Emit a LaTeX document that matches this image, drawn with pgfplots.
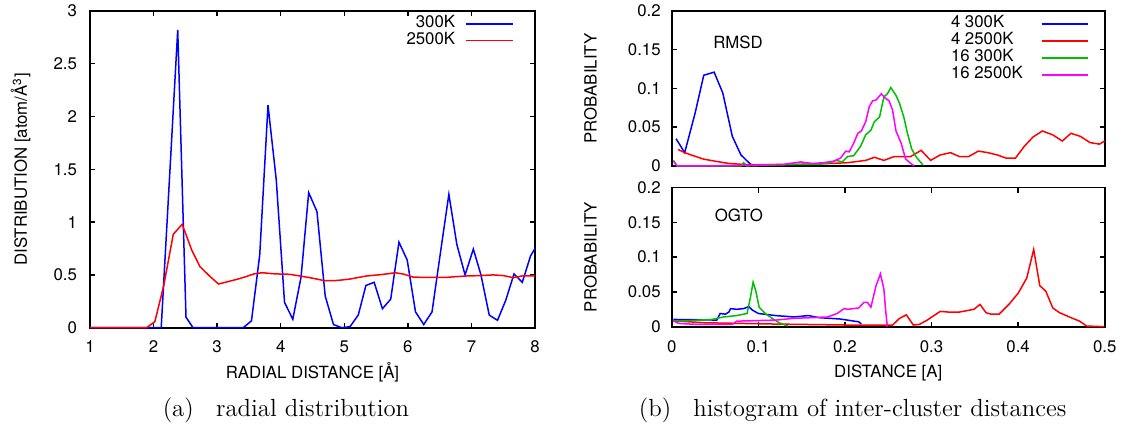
\documentclass[border=0pt]{standalone}
\usepackage{fontspec}
\usepackage{pgfplots}
\pgfplotsset{compat=1.18}
\newfontfamily\hv{TeX Gyre Heros}
\definecolor{gpblue}{rgb}{0,0,1}
\definecolor{gpred}{rgb}{1,0,0}
\definecolor{gpgreen}{rgb}{0,0.75,0}
\definecolor{gpmag}{rgb}{1,0,1}
\newcommand{\gpf}{\hv\fontsize{8.4}{10}\selectfont}
\pgfplotsset{gp/.style={
  scale only axis, clip=false,
  axis line style={line width=0.8pt},
  major tick length=2.5pt,
  every tick/.style={black, line width=0.7pt},
  tick align=inside,
  ticklabel style={font=\gpf},
  /pgf/number format/assume math mode=true,
  scaled ticks=false,
  yticklabel style={/pgf/number format/fixed, /pgf/number format/precision=2},
  legend plot pos=right,
  legend image code/.code={\draw[##1,line width=0.75pt] (0pt,0pt) -- (23.25pt,0pt);},
  every axis plot/.append style={line width=0.75pt},
}}
\begin{document}
\begin{tikzpicture}
\useasboundingbox (0,0) rectangle (563.5pt,-214.5pt);
% ---------------- left panel
\begin{axis}[gp,
  at={(45pt,-163.85pt)}, anchor=south west,
  width=222.5pt, height=158.35pt,
  xmin=1, xmax=8, ymin=0, ymax=3,
  xtick={1,2,...,8}, ytick={0,0.5,...,3},
  xticklabel style={yshift=-2.8pt},
  yticklabel style={xshift=-3pt},
  xlabel={RADIAL DISTANCE [Å]},
  ylabel={DISTRIBUTION [atom/Å\textsuperscript{3}]},
  every axis x label/.style={at={(axis description cs:0.5,-0.1415)}, anchor=center, font=\gpf},
  every axis y label/.style={at={(axis description cs:-0.156,0.5)}, rotate=90, anchor=center, font=\gpf},
  legend style={draw=none, fill=none, inner sep=0pt, outer sep=0pt,
    at={(0.9517,0.9853)}, anchor=north east, column sep=5.2pt, row sep=0pt,
    font=\gpf, nodes={inner sep=0pt, text height=6pt, text depth=2.35pt, font=\gpf}},
  legend cell align=right,
]
\addplot[gpblue] coordinates {(1,0) (2.12,0) (2.38,2.82) (2.51,0.1) (2.62,0) (3.41,0) (3.54,0.065) (3.67,0.69) (3.80,2.107) (3.93,1.4) (4.06,0.24) (4.19,0.08) (4.32,0.48) (4.44,1.28) (4.57,1.1) (4.70,0.3) (4.83,0.03) (4.96,0) (5.09,0.01) (5.22,0.12) (5.34,0.4) (5.47,0.43) (5.60,0.18) (5.73,0.27) (5.86,0.81) (5.99,0.64) (6.12,0.15) (6.25,0.03) (6.38,0.15) (6.51,0.7) (6.645,1.264) (6.77,0.79) (6.90,0.5) (7.03,0.745) (7.15,0.5) (7.28,0.12) (7.41,0.07) (7.54,0.26) (7.67,0.51) (7.80,0.43) (7.93,0.68) (8.0,0.75)};
\addlegendentry{300K}
\addplot[gpred] coordinates {(1,0) (1.89,0) (2.02,0.057) (2.16,0.40) (2.31,0.885) (2.45,0.98) (2.60,0.736) (2.73,0.578) (2.88,0.49) (3.02,0.414) (3.16,0.435) (3.31,0.458) (3.45,0.483) (3.58,0.51) (3.71,0.521) (3.86,0.512) (4.0,0.508) (4.14,0.506) (4.3,0.49) (4.45,0.475) (4.59,0.458) (4.69,0.445) (4.83,0.445) (4.96,0.452) (5.09,0.461) (5.22,0.476) (5.35,0.49) (5.56,0.502) (5.70,0.512) (5.80,0.521) (5.93,0.508) (6.08,0.48) (6.25,0.476) (6.40,0.477) (6.6,0.477) (6.92,0.49) (7.1,0.493) (7.34,0.5) (7.50,0.494) (7.66,0.474) (7.79,0.49) (8,0.49)};
\addlegendentry{2500K}
\end{axis}
% ---------------- right top panel
\begin{axis}[gp,
  at={(335.85pt,-82.9pt)}, anchor=south west,
  width=216.5pt, height=77.4pt,
  xmin=0, xmax=0.5, ymin=0, ymax=0.2,
  xtick=\empty, ytick={0,0.05,...,0.2},
  yticklabel style={xshift=-2pt},
  ylabel={PROBABILITY},
  every axis y label/.style={at={(axis description cs:-0.1873,0.5)}, rotate=90, anchor=center, font=\gpf},
  legend style={draw=none, fill=none, inner sep=0pt, outer sep=0pt,
    at={(0.645,0.971)}, anchor=north west, column sep=9pt, row sep=0pt,
    font=\gpf, nodes={inner sep=0pt, text height=6.1pt, text depth=2.4pt, font=\gpf}},
  legend cell align=left,
]
\addplot[gpblue] coordinates {(0.005,0.035) (0.015,0.017) (0.027,0.068) (0.037,0.117) (0.049,0.121) (0.059,0.094) (0.070,0.038) (0.080,0.014) (0.091,0.002) (0.1,0)};
\addlegendentry{4 300K}
\addplot[gpred] coordinates {(0.0075,0.021) (0.015,0.017) (0.025,0.013) (0.037,0.0086) (0.05,0.006) (0.066,0.003) (0.08,0.002) (0.091,0.0013) (0.12,0.0015) (0.15,0.002) (0.183,0.003) (0.203,0.004) (0.224,0.007) (0.234,0.011) (0.245,0.007) (0.257,0.012) (0.276,0.012) (0.288,0.02) (0.299,0.007) (0.31,0.014) (0.322,0.017) (0.332,0.012) (0.343,0.012) (0.354,0.019) (0.365,0.017) (0.376,0.014) (0.386,0.01) (0.397,0.01) (0.407,0.025) (0.417,0.037) (0.428,0.045) (0.44,0.04) (0.451,0.032) (0.461,0.042) (0.472,0.038) (0.483,0.03) (0.494,0.028) (0.5,0.032)};
\addlegendentry{4 2500K}
\addplot[gpgreen] coordinates {(0.002,0.007) (0.006,0) (0.08,0) (0.083,0.004) (0.087,0) (0.15,0.002) (0.17,0.002) (0.183,0.004) (0.19,0.007) (0.197,0.005) (0.203,0.012) (0.21,0.013) (0.218,0.025) (0.224,0.04) (0.23,0.046) (0.234,0.057) (0.24,0.063) (0.245,0.089) (0.249,0.093) (0.253,0.101) (0.259,0.091) (0.263,0.081) (0.268,0.063) (0.272,0.043) (0.277,0.022) (0.282,0.012) (0.29,0.001)};
\addlegendentry{16 300K}
\addplot[gpmag] coordinates {(0.002,0.006) (0.006,0) (0.05,0) (0.1,0.001) (0.13,0.002) (0.149,0.005) (0.162,0.003) (0.175,0.004) (0.187,0.006) (0.195,0.010) (0.201,0.019) (0.205,0.018) (0.21,0.029) (0.215,0.042) (0.219,0.045) (0.224,0.057) (0.228,0.076) (0.232,0.084) (0.236,0.085) (0.242,0.093) (0.247,0.087) (0.251,0.084) (0.255,0.072) (0.259,0.045) (0.265,0.029) (0.27,0.009) (0.276,0.003) (0.28,0)};
\addlegendentry{16 2500K}
\node[font=\gpf, anchor=center] at (axis cs:0.0766,0.160) {RMSD};
\end{axis}
% ---------------- right bottom panel
\begin{axis}[gp,
  at={(335.85pt,-163.35pt)}, anchor=south west,
  width=216.5pt, height=69.6pt,
  xmin=0, xmax=0.5, ymin=0, ymax=0.2,
  xtick={0,0.1,...,0.5}, ytick={0,0.05,...,0.2},
  xticklabel style={yshift=-3.4pt, /pgf/number format/fixed},
  yticklabel style={xshift=-2pt},
  xlabel={DISTANCE [A]},
  ylabel={PROBABILITY},
  every axis x label/.style={at={(axis description cs:0.5,-0.329)}, anchor=center, font=\gpf},
  every axis y label/.style={at={(axis description cs:-0.1873,0.5)}, rotate=90, anchor=center, font=\gpf},
]
\addplot[gpblue] coordinates {(0.002,0.0104) (0.02,0.0102) (0.04,0.0098) (0.052,0.0095) (0.056,0.019) (0.062,0.018) (0.066,0.021) (0.068,0.026) (0.075,0.025) (0.083,0.026) (0.089,0.029) (0.093,0.024) (0.1,0.019) (0.12,0.016) (0.141,0.014) (0.158,0.016) (0.17,0.013) (0.183,0.012) (0.195,0.011) (0.216,0.007) (0.219,0.004)};
\addplot[gpred] coordinates {(0.002,0.0085) (0.037,0.0057) (0.12,0.0038) (0.203,0.0024) (0.255,0.0024) (0.263,0.012) (0.271,0.017) (0.279,0.0024) (0.286,0.0033) (0.295,0.0095) (0.31,0.022) (0.32,0.021) (0.332,0.021) (0.349,0.025) (0.356,0.032) (0.363,0.02) (0.369,0.018) (0.378,0.018) (0.39,0.033) (0.4,0.048) (0.41,0.07) (0.418,0.111) (0.425,0.059) (0.432,0.051) (0.44,0.027) (0.448,0.02) (0.463,0.012) (0.471,0.008) (0.479,0.001) (0.5,0)};
\addplot[gpgreen] coordinates {(0.002,0.0085) (0.017,0.0085) (0.046,0.0104) (0.06,0.014) (0.075,0.016) (0.087,0.019) (0.091,0.043) (0.094,0.064) (0.097,0.052) (0.101,0.028) (0.108,0.019) (0.116,0.012) (0.124,0.0057) (0.134,0.001)};
\addplot[gpmag] coordinates {(0.002,0.0085) (0.008,0.0047) (0.029,0.0033) (0.07,0.0033) (0.075,0.008) (0.12,0.0095) (0.141,0.012) (0.162,0.013) (0.18,0.014) (0.191,0.019) (0.199,0.026) (0.203,0.025) (0.216,0.027) (0.222,0.035) (0.226,0.035) (0.23,0.028) (0.236,0.059) (0.241,0.076) (0.245,0.054) (0.247,0.024) (0.249,0)};
\node[font=\gpf, anchor=center] at (axis cs:0.0775,0.1595) {OGTO};
\end{axis}
% ---------------- captions
\node[font=\fontsize{12.4}{15}\selectfont, inner sep=0pt] at (143pt,-205pt) {(a)\hspace{0.9em}radial distribution};
\node[font=\fontsize{12.4}{15}\selectfont, inner sep=0pt] at (426.3pt,-205pt) {(b)\hspace{0.9em}histogram of inter-cluster distances};
\end{tikzpicture}
\end{document}
